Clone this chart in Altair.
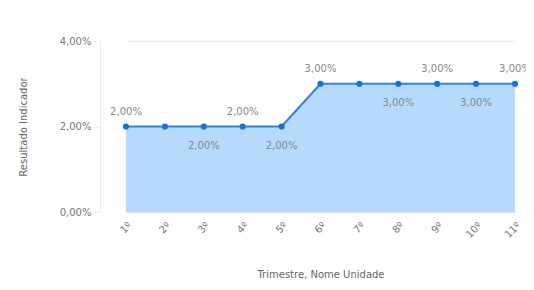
import altair as alt
import pandas as pd

trimestres = ["1º", "2º", "3º", "4º", "5º", "6º", "7º", "8º", "9º", "10º", "11º"]
valores = [2.0, 2.0, 2.0, 2.0, 2.0, 3.0, 3.0, 3.0, 3.0, 3.0, 3.0]
rotulo_pos = ["acima", "", "abaixo", "acima", "abaixo", "acima", "", "abaixo", "acima", "abaixo", "acima"]

df = pd.DataFrame({"t": trimestres, "v": valores, "pos": rotulo_pos})
df["label"] = df["v"].map(lambda x: f"{x:.2f}".replace(".", ",") + "%")

FONT = "DejaVu Sans"
x = alt.X("t:N", sort=trimestres, scale=alt.Scale(type="point", padding=0, range=[26, 415]),
          axis=alt.Axis(title="Trimestre,  Nome Unidade", labelAngle=-45, labelFontSize=10,
                        labelColor="#777", titleColor="#666", titleFontSize=10,
                        titleFontWeight="normal", titlePadding=30, labelPadding=8,
                        domainColor="#e3e3e3", tickSize=0, grid=False, labelFont=FONT,
                        titleFont=FONT))
y = alt.Y("v:Q", scale=alt.Scale(domain=[0, 4]),
          axis=alt.Axis(title="Resultado Indicador", values=[0, 2, 4],
                        labelExpr="replace(format(datum.value, '.2f'), '.', ',') + '%'",
                        labelFontSize=10, labelColor="#777", titleColor="#666",
                        titleFontSize=10, titleFontWeight="normal", titlePadding=31,
                        domain=True, domainColor="#ececec", tickSize=7, tickColor="#eee",
                        labelPadding=2, gridColor="#ececec", labelFont=FONT, titleFont=FONT))

base = alt.Chart(df).encode(x=x)

area = base.mark_area(color="#b6dafb", opacity=1).encode(y=y)
line = base.mark_line(color="#2a86e0", strokeWidth=2).encode(y="v:Q")
pts = base.mark_point(filled=True, color="#1473d6", size=38, opacity=1).encode(y="v:Q")
lab_up = base.transform_filter("datum.pos == 'acima'").mark_text(
    dy=-15, fontSize=10, color="#888", font=FONT).encode(y="v:Q", text="label:N")
lab_dn = base.transform_filter("datum.pos == 'abaixo'").mark_text(
    dy=19, fontSize=10, color="#888", font=FONT).encode(y="v:Q", text="label:N")

chart = alt.layer(area, line, pts, lab_up, lab_dn).properties(
    width=426, height=171,
    autosize=alt.AutoSizeParams(type="none"),
    padding={"left": 92, "top": 33, "right": 0, "bottom": 70},
).configure_view(stroke=None)

chart.save("out.html", embed_options={"renderer": "svg", "actions": False})
